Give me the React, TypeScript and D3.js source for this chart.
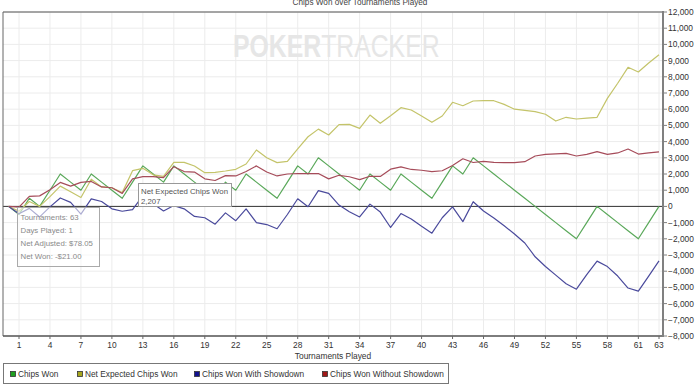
import React from 'react';
import * as d3 from 'd3';

// Tournament index 0..63 (0 = start)
const tournaments = d3.range(0, 64);

const chipsWon = [
  0, -500, 500, 0, 1000, 2000, 1500, 1000, 2000, 1500,
  1000, 500, 1500, 2500, 2000, 1500, 2500, 2000, 1500, 1000,
  500, 1500, 1000, 2000, 1500, 1000, 500, 1500, 2500, 2000,
  3000, 2500, 2000, 1500, 1000, 2000, 1500, 1000, 2000, 1500,
  1000, 500, 1500, 2500, 2000, 3000, 2500, 2000, 1500, 1000,
  500, 0, -500, -1000, -1500, -2000, -1000, 0, -500, -1000,
  -1500, -2000, -1000, 0,
];

const netExpected = [
  0, -300, 300, 0, 600, 1250, 900, 550, 1680, 1200,
  1150, 850, 2207, 2350, 1950, 1850, 2720, 2720, 2494, 2082,
  2100, 2185, 2290, 2617, 3481, 3000, 2700, 2780, 3550, 4300,
  4770, 4407, 5050, 5066, 4818, 5640, 5130, 5600, 6093, 5950,
  5580, 5190, 5580, 6426, 6216, 6506, 6525, 6525, 6300, 6000,
  5930, 5850, 5690, 5270, 5500, 5395, 5450, 5500, 6670, 7600,
  8586, 8300, 8850, 9360,
];

const withShowdown = [
  0, -450, -120, -650, -30, 520, 250, -480, 460, 300,
  -150, -300, -200, 665, 165, -280, 50, -150, -620, -700,
  -1100, -400, -880, -150, -1000, -1120, -1380, -500, 470, -20,
  970, 800, 80, -330, -650, 140, -350, -1300, -440, -780,
  -1230, -1650, -700, -30, -940, 290, -280, -720, -1200, -1700,
  -2260, -3110, -3710, -4240, -4776, -5111, -4214, -3378, -3714, -4300,
  -5040, -5230, -4300, -3360,
];

const withoutShowdown = [
  0, -50, 620, 650, 1030, 1480, 1250, 1480, 1540, 1200,
  1150, 800, 1700, 1835, 1835, 1780, 2450, 2150, 2120, 1700,
  1600, 1900, 1880, 2150, 2500, 2120, 1880, 2000, 2030, 2020,
  2030, 1700, 1920, 1830, 1650, 1860, 1850, 2300, 2440, 2280,
  2230, 2150, 2200, 2530, 2940, 2710, 2780, 2720, 2700, 2700,
  2760, 3110, 3210, 3240, 3276, 3111, 3214, 3378, 3214, 3300,
  3540, 3230, 3300, 3360,
];

const xTicks = [1, 4, 7, 10, 13, 16, 19, 22, 25, 28, 31, 34, 37, 40, 43, 46, 49, 52, 55, 58, 61, 63];
const yTicks = [-8000, -7000, -6000, -5000, -4000, -3000, -2000, -1000, 0, 1000, 2000, 3000, 4000, 5000, 6000, 7000, 8000, 9000, 10000, 11000, 12000];

const seriesNames = ['Chips Won', 'Net Expected Chips Won', 'Chips Won With Showdown', 'Chips Won Without Showdown'];
const seriesData = [chipsWon, netExpected, withShowdown, withoutShowdown];
const lineColors = ['#5aa85a', '#c4c46a', '#4a4a9c', '#a64c5a'];
const legendColors = ['#1f9f1f', '#a6a61c', '#12128f', '#a01818'];
const legendX = [10, 77, 194, 322];

const tooltipMain = ['Net Expected Chips Won', '2,207'];
const tooltipSummary = ['Tournaments: 63', 'Days Played: 1', 'Net Adjusted: $78.05', 'Net Won: -$21.00'];

const FONT = '"Liberation Sans", Arial, sans-serif';

export default function App() {
  const left = 3, right = 663, top = 12, bottom = 336;
  const x = d3.scaleLinear().domain([0, 63]).range([8.68, 659]);
  const y = d3.scaleLinear().domain([-8000, 12000]).range([bottom, top]);
  const line = d3.line<number>().x((_, i) => x(tournaments[i])).y((d) => y(d));

  return (
    <svg width={700} height={386} style={{ position: 'absolute', left: 0, top: 0, background: '#fff' }} fontFamily={FONT}>
      <rect x={0} y={0} width={700} height={386} fill="#fff" />
      {/* title (cut off at top, as in the reference) */}
      <text x={360} y={4.5} textAnchor="middle" fontSize={8.2} fill="#444">Chips Won over Tournaments Played</text>

      {/* grid */}
      {yTicks.map((t) => (
        <line key={'hy' + t} x1={left} x2={right} y1={y(t)} y2={y(t)} stroke="#ececec" strokeWidth={1} />
      ))}
      {xTicks.map((t) => (
        <line key={'vx' + t} x1={x(t)} x2={x(t)} y1={top} y2={bottom} stroke="#ececec" strokeWidth={1} />
      ))}

      {/* watermark */}
      <g transform="translate(233,57) scale(0.775,1)">
        <text x={0} y={0} fontSize={32} fill="#e6e6e6">
          <tspan fontWeight="bold">POKER</tspan>
          <tspan>TRACKER</tspan>
        </text>
      </g>

      {/* zero line */}
      <line x1={left} x2={right} y1={y(0)} y2={y(0)} stroke="#333" strokeWidth={1} />

      {/* series */}
      {seriesData.map((s, i) => (
        <path key={seriesNames[i]} d={line(s) || ''} fill="none" stroke={lineColors[i]} strokeWidth={1.2} strokeLinejoin="round" />
      ))}

      {/* frame */}
      <line x1={left} x2={right} y1={top} y2={top} stroke="#555" strokeWidth={1} />
      <line x1={left} x2={left} y1={top} y2={bottom} stroke="#666" strokeWidth={1} />
      <line x1={left} x2={right} y1={bottom} y2={bottom} stroke="#555" strokeWidth={1.5} />
      <line x1={right} x2={right} y1={top - 1} y2={bottom + 1} stroke="#808080" strokeWidth={2} />

      {/* y axis ticks & labels (right) */}
      {yTicks.map((t) => (
        <g key={'yt' + t}>
          <line x1={right} x2={right + 4} y1={y(t)} y2={y(t)} stroke="#808080" strokeWidth={1} />
          <text x={668} y={y(t) + 3} fontSize={8.4} fill="#333">{d3.format(',')(t)}</text>
        </g>
      ))}

      {/* x axis ticks & labels */}
      {xTicks.map((t) => (
        <g key={'xt' + t}>
          <line x1={x(t)} x2={x(t)} y1={bottom} y2={bottom + 3} stroke="#666" strokeWidth={1} />
          <text x={x(t)} y={347.5} textAnchor="middle" fontSize={8.4} fill="#333">{t}</text>
        </g>
      ))}
      <text x={333} y={358.5} textAnchor="middle" fontSize={8.4} fill="#333">Tournaments Played</text>

      {/* legend */}
      <rect x={3.5} y={363.5} width={445} height={20} fill="#fff" stroke="#777" strokeWidth={1} />
      {seriesNames.map((n, i) => (
        <g key={'lg' + n}>
          <rect x={legendX[i] + 0.5} y={371.5} width={5} height={5} fill={legendColors[i]} stroke="#333" strokeWidth={0.8} />
          <text x={legendX[i] + 8} y={376.5} fontSize={8.3} fill="#333">{n}</text>
        </g>
      ))}

      {/* tooltip: net expected */}
      <rect x={138.5} y={183.5} width={93} height={23} fill="#fff" stroke="#999" strokeWidth={1} />
      <text x={141} y={193.5} fontSize={7.8} fill="#555">{tooltipMain[0]}</text>
      <text x={141} y={203.5} fontSize={7.8} fill="#555">{tooltipMain[1]}</text>

      {/* tooltip: summary */}
      <rect x={17.5} y={207.5} width={82} height={59} fill="#fff" fillOpacity={0.55} stroke="#aaa" strokeWidth={1} />
      {tooltipSummary.map((t, i) => (
        <text key={'ts' + i} x={20.5} y={219.5 + i * 13} fontSize={7.8} fill="#8a8a8a">{t}</text>
      ))}
    </svg>
  );
}
